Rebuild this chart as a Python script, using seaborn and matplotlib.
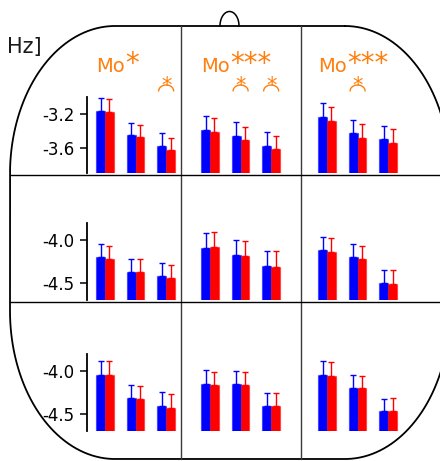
import numpy as np
import pandas as pd
import matplotlib
matplotlib.use("Agg")
import matplotlib.pyplot as plt
import seaborn as sns

W, H = 440, 461

conditions = ["c1", "c2", "c3"]
hue_names = ["blue", "red"]
palette = {"blue": "#0000ff", "red": "#ff0000"}

# values per row (top, middle, bottom), each row holds the 3 panels left -> right
top_blue = [[-3.16, -3.45, -3.58], [-3.39, -3.46, -3.58], [-3.24, -3.43, -3.50]]
top_blue_err = [[0.154, 0.146, 0.150], [0.170, 0.160, 0.162], [0.166, 0.163, 0.160]]
top_red = [[-3.18, -3.47, -3.63], [-3.415, -3.51, -3.62], [-3.29, -3.48, -3.55]]
top_red_err = [[0.155, 0.138, 0.150], [0.166, 0.158, 0.160], [0.170, 0.162, 0.166]]

mid_blue = [[-4.20, -4.37, -4.42], [-4.09, -4.17, -4.30], [-4.12, -4.20, -4.50]]
mid_blue_err = [[0.160, 0.154, 0.154], [0.177, 0.174, 0.173], [0.154, 0.158, 0.154]]
mid_red = [[-4.22, -4.37, -4.44], [-4.08, -4.19, -4.31], [-4.14, -4.22, -4.51]]
mid_red_err = [[0.157, 0.154, 0.154], [0.173, 0.177, 0.177], [0.159, 0.150, 0.158]]

bot_blue = [[-4.05, -4.32, -4.41], [-4.15, -4.15, -4.41], [-4.04, -4.20, -4.47]]
bot_blue_err = [[0.166, 0.161, 0.162], [0.158, 0.154, 0.154], [0.157, 0.154, 0.146]]
bot_red = [[-4.05, -4.33, -4.43], [-4.165, -4.165, -4.41], [-4.055, -4.20, -4.465]]
bot_red_err = [[0.166, 0.154, 0.166], [0.157, 0.157, 0.154], [0.158, 0.146, 0.150]]

row_ylims = [(-3.9, -3.0), (-4.7, -3.8), (-4.7, -3.8)]
row_yticks = [[-3.2, -3.6], [-4.0, -4.5], [-4.0, -4.5]]

col_titles = ["Mo", "Mo", "Mo"]
col_stars = ["*", "***", "***"]
# (column, condition index) with a significant blue/red difference
pair_stars = [(0, 2), (1, 1), (1, 2), (2, 1)]

ylabel_text = "Relative power [ratio Hz]"

rows = [
    (top_blue, top_blue_err, top_red, top_red_err),
    (mid_blue, mid_blue_err, mid_red, mid_red_err),
    (bot_blue, bot_blue_err, bot_red, bot_red_err),
]

# layout in pixels (y from top)
row_px = [(97, 173), (223, 300), (354, 431)]
col_left = [87, 192, 309]
ax_w = 92
xlim = (-0.59, 2.42)
unit = ax_w / (xlim[1] - xlim[0])
orange = "#ff7f0e"

sns.set_theme(style="white")
plt.rcParams["font.family"] = ["DejaVu Sans"]
plt.rcParams["axes.unicode_minus"] = False

fig = plt.figure(figsize=(W / 100, H / 100), dpi=100)

# background axes in pixel coordinates for the head outline and grid
bg = fig.add_axes([0, 0, 1, 1])
bg.set_xlim(0, W)
bg.set_ylim(H, 0)
bg.axis("off")


def head_outline(x0, x1, y0, y1, rx, ry, n=80):
    t = np.linspace(0, np.pi / 2, n)
    xs, ys = [], []
    cx, cy = x1 - rx, y0 + ry
    xs += list(cx + rx * np.sin(t)); ys += list(cy - ry * np.cos(t))
    cx, cy = x1 - rx, y1 - ry
    xs += list(cx + rx * np.cos(t)); ys += list(cy + ry * np.sin(t))
    cx, cy = x0 + rx, y1 - ry
    xs += list(cx - rx * np.sin(t)); ys += list(cy + ry * np.cos(t))
    cx, cy = x0 + rx, y0 + ry
    xs += list(cx - rx * np.cos(t)); ys += list(cy - ry * np.sin(t))
    xs.append(xs[0]); ys.append(ys[0])
    return xs, ys


hx, hy = head_outline(10, 450, 26, 459, 105, 148)
bg.plot(hx, hy, color="black", lw=1.3)
t = np.linspace(0, np.pi, 60)
bg.plot(229.5 + 9.5 * np.cos(t), 26 - 14.5 * np.sin(t), color="black", lw=1.1)

for xv in [181, 300.5]:
    bg.plot([xv, xv], [26, 459], color="#3a3a3a", lw=1.0)
for yv in [175, 301.5]:
    bg.plot([10, 450], [yv, yv], color="black", lw=1.0)

# label runs off the left edge, as in the original
bg.text(42, 52.7, ylabel_text, ha="right", va="baseline", fontsize=15, color="#1a1a1a")

for r, (blue, blue_err, red, red_err) in enumerate(rows):
    lo, hi = row_ylims[r]
    top, bottom = row_px[r]
    for c in range(3):
        ax = fig.add_axes([col_left[c] / W, 1 - bottom / H, ax_w / W, (bottom - top) / H])
        ax.patch.set_visible(False)
        df = pd.DataFrame({
            "cond": conditions * 2,
            "group": ["blue"] * 3 + ["red"] * 3,
            "value": list(blue[c]) + list(red[c]),
        })
        df["height"] = df["value"] - lo
        sns.barplot(data=df, x="cond", y="height", hue="group", order=conditions,
                    hue_order=hue_names, palette=palette, saturation=1, width=0.58,
                    errorbar=None, bottom=lo, legend=False, ax=ax, zorder=2)
        for p in ax.patches:
            fc = p.get_facecolor()
            p.set_edgecolor((fc[0], fc[1], fc[2], 0.45))
            p.set_linewidth(0.9)
        for hi_idx, (vals, errs) in enumerate([(blue[c], blue_err[c]), (red[c], red_err[c])]):
            xs = np.arange(3) + (hi_idx - 0.5) * 0.29
            ax.errorbar(xs, vals, yerr=[np.zeros(3), errs], fmt="none",
                        ecolor=palette[hue_names[hi_idx]], elinewidth=1.0,
                        capsize=2, capthick=1.0, zorder=3)
        ax.set_xlim(*xlim)
        ax.set_ylim(lo, hi)
        ax.set_xlabel("")
        ax.set_ylabel("")
        ax.set_xticks([])
        sns.despine(ax=ax, top=True, right=True, bottom=True, left=(c != 0))
        if c == 0:
            ax.set_yticks(row_yticks[r])
            ax.set_yticklabels([f"{v:.1f}" for v in row_yticks[r]])
            ax.spines["left"].set_color("black")
            ax.spines["left"].set_linewidth(1.3)
            ax.tick_params(axis="y", left=True, direction="out", length=5, width=1.1,
                           labelsize=12, colors="black", pad=4)
        else:
            ax.set_yticks([])

# significance labels above the top row
for c in range(3):
    x0 = col_left[c] + 9.4
    bg.text(x0, 71.7, col_titles[c], ha="left", va="baseline", fontsize=14, color=orange)
    bg.text(x0 + 28.7, 71.7, col_stars[c], ha="left", va="baseline", fontsize=20, color=orange)

for c, g in pair_stars:
    xc = col_left[c] + (g - xlim[0]) * unit
    bg.text(xc, 92, "*", ha="center", va="baseline", fontsize=15, color=orange)
    ta = np.linspace(np.pi, 2 * np.pi, 40)
    bg.plot(xc + 7.5 * np.cos(ta), 91 + 6 * np.sin(ta), color=orange, lw=1.0)

fig.savefig("out.png", dpi=100)
